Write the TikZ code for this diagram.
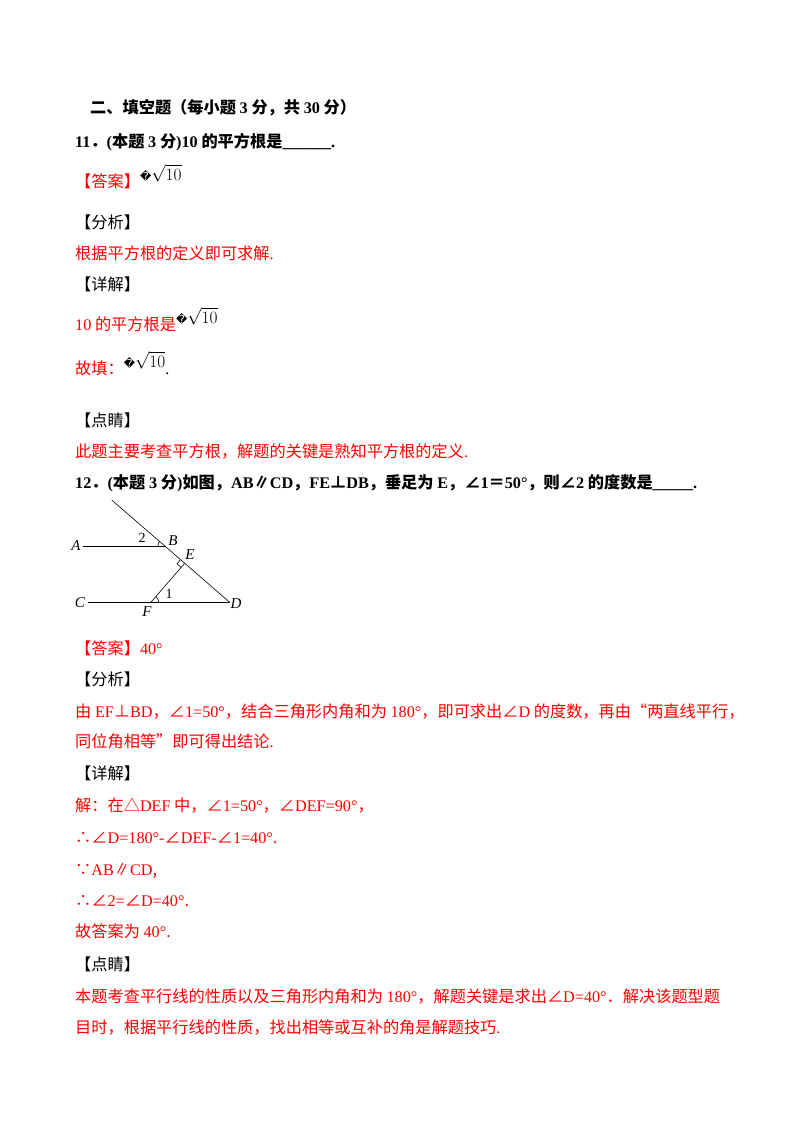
\documentclass[tikz,border=0pt]{standalone}
\usepackage{fontspec}
\usetikzlibrary{calc}
\newfontfamily\cjk{Noto Sans CJK SC}
\newfontfamily\tmf{Liberation Serif}
\newfontfamily\djv{DejaVu Sans}
\newcommand\tm[1]{{\tmf #1}}
\newcommand\qm{{\djv\fontsize{11}{12}\selectfont ^^^^fffd}}
\newcommand\sq{\raisebox{7pt}{\qm$\sqrt{10}$}}
\begin{document}
\begin{tikzpicture}[x=1pt,y=-1pt,
  tx/.style={anchor=base west,inner sep=0,font=\cjk\fontsize{16.2}{18}\selectfont},
  rd/.style={tx,text=red},
  bd/.style={tx,font=\cjk\bfseries\fontsize{16.2}{18}\selectfont},
  lb/.style={inner sep=0,font=\tmf\itshape\fontsize{15}{16}\selectfont},
  ln/.style={line width=0.6pt}]
\useasboundingbox (0,0) rectangle (800,1132);
\fill[white] (0,0) rectangle (800,1132);
\node[bd] (h) at (90,113) {二、填空题（每小题 \tm{3} 分，共 \tm{30} 分）};
\node[bd] (q11) at (75,147) {\tm{11}．\tm{(}本题 \tm{3} 分\tm{)10} 的平方根是\tm{\_\_\_\_\_\_.}};
\node[rd] (a1) at (75,187) {【答案】\textcolor{black}{\sq}};
\node[tx] (f1) at (75,228) {【分析】};
\node[rd] (f1t) at (75,259) {根据平方根的定义即可求解\tm{.}};
\node[tx] (x1) at (75,290) {【详解】};
\node[rd] (x1t) at (75,330) {\tm{10} 的平方根是\textcolor{black}{\sq}};
\node[rd] (g1) at (75,374) {故填：\textcolor{black}{\sq\tm{.}}};
\node[tx] (d1) at (75,426) {【点睛】};
\node[rd] (d1t) at (75,457) {此题主要考查平方根，解题的关键是熟知平方根的定义\tm{.}};
\node[bd] (q12) at (75,488) {\tm{12}．\tm{(}本题 \tm{3} 分\tm{)}如图，\tm{AB}∥\tm{CD}，\tm{FE}⊥\tm{DB}，垂足为 \tm{E}，∠\tm{1}＝\tm{50°}，则∠\tm{2} 的度数是\tm{\_\_\_\_\_.}};
% figure
\coordinate (T) at (111.7,500);
\coordinate (B) at (166,546);
\coordinate (D) at (230,602.5);
\coordinate (A0) at (83.3,546);
\coordinate (C0) at (88.3,602.5);
\coordinate (F) at (150.7,602.5);
\coordinate (E) at ($(T)!(F)!(D)$);
\draw[ln] (T) -- (D);
\draw[ln] (A0) -- (B);
\draw[ln] (C0) -- (D);
\draw[ln] (F) -- (E);
\draw[ln] ($(E)!5.5pt!(F)$) -- ($($(E)!5.5pt!(F)$)!5.5pt!90:(E)$) -- ($(E)!5.5pt!(T)$);
\draw[ln] ($(B)!8pt!(A0)$) arc[start angle=180,delta angle=-40,radius=8pt];
\draw[ln] ($(F)!8pt!(D)$) arc[start angle=0,delta angle=50,radius=8pt];
\node[lb] (lA) at (76,546) {A};
\node[lb] (lB) at (173,541) {B};
\node[lb] (lE) at (190,555) {E};
\node[lb] (lC) at (80,603) {C};
\node[lb] (lF) at (147,612) {F};
\node[lb] (lD) at (236,604) {D};
\node[lb,font=\tmf\fontsize{14}{15}\selectfont] (l2) at (142,538) {2};
\node[lb,font=\tmf\fontsize{14}{15}\selectfont] (l1) at (169,594) {1};
% answer 12
\node[rd] (a2) at (75,654) {【答案】\tm{40°}};
\node[tx] (f2) at (75,685) {【分析】};
\node[rd] (f2a) at (75,717) {由 \tm{EF}⊥\tm{BD}，∠\tm{1=50°}，结合三角形内角和为 \tm{180°}，即可求出∠\tm{D} 的度数，再由“两直线平行，};
\node[rd] (f2b) at (75,747) {同位角相等”即可得出结论\tm{.}};
\node[tx] (x2) at (75,779) {【详解】};
\node[rd] (x2a) at (75,811) {解：在△\tm{DEF} 中，∠\tm{1=50°}，∠\tm{DEF=90°}，};
\node[rd] (x2b) at (75,843) {∴∠\tm{D=180°-}∠\tm{DEF-}∠\tm{1=40°}.};
\node[rd] (x2c) at (75,875) {∵\tm{AB}∥\tm{CD},};
\node[rd] (x2d) at (75,906) {∴∠\tm{2=}∠\tm{D=40°}.};
\node[rd] (x2e) at (75,937) {故答案为 \tm{40°}.};
\node[tx] (d2) at (75,970) {【点睛】};
\node[rd] (d2a) at (75,1002) {本题考查平行线的性质以及三角形内角和为 \tm{180°}，解题关键是求出∠\tm{D=40°}．解决该题型题};
\node[rd] (d2b) at (75,1033) {目时，根据平行线的性质，找出相等或互补的角是解题技巧\tm{.}};
\end{tikzpicture}
\end{document}
